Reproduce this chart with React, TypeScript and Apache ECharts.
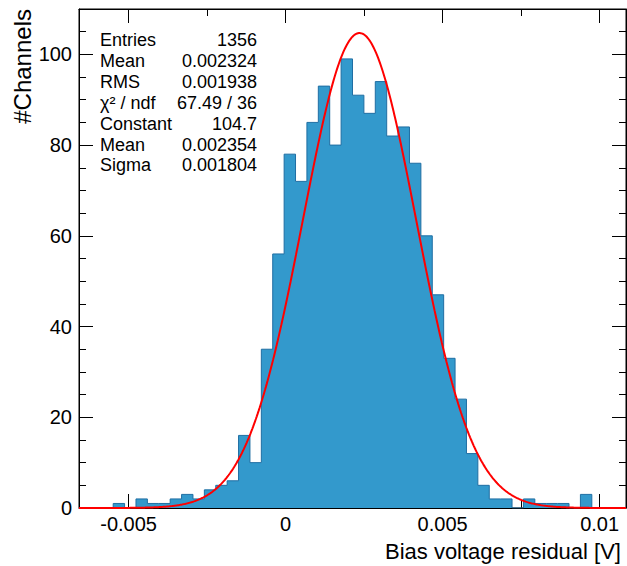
import React, { useEffect, useRef } from 'react';
import * as echarts from 'echarts';

// Histogram definition
const X_MIN = -0.00658;
const X_MAX = 0.01084;
const N_BINS = 48;
const binCounts = [
  0, 0, 0, 1, 0, 2, 1, 1, 2, 3, 2, 4, 5, 6, 16, 10,
  35, 56, 78, 72, 85, 93, 80, 99, 91, 87, 94, 82, 84, 76, 60, 47,
  33, 24, 12, 5, 2, 2, 0, 2, 1, 1, 1, 0, 3, 0, 0, 0,
];

// Gaussian fit parameters
const fitConstant = 104.7;
const fitMean = 0.002354;
const fitSigma = 0.001804;

// Stats box
const statLabels = ['Entries', 'Mean', 'RMS', 'χ² / ndf', 'Constant', 'Mean', 'Sigma'];
const statValues = ['1356', '0.002324', '0.001938', '67.49 / 36', '104.7', '0.002354', '0.001804'];

// Ticks
const xMajorTicks = [-0.005, 0, 0.005, 0.01];
const xMinorTicks = [-0.005, -0.0025, 0, 0.0025, 0.005, 0.0075, 0.01];
const Y_MIN = 0;
const Y_MAX = 110;
const Y_MAJOR = 20;
const Y_MINOR = 5;

const xTitle = 'Bias voltage residual [V]';
const yTitle = '#Channels';

const FONT = '"Liberation Sans", Arial, Helvetica, sans-serif';

export default function App() {
  const ref = useRef<HTMLDivElement>(null);

  useEffect(() => {
    if (!ref.current) return;
    const chart = echarts.init(ref.current, undefined, { renderer: 'svg' });

    const binW = (X_MAX - X_MIN) / N_BINS;
    const stepData: number[][] = binCounts.map((c, k) => [X_MIN + k * binW, c]);
    stepData.push([X_MAX, binCounts[N_BINS - 1]]);

    const fitData: number[][] = [];
    const NP = 600;
    for (let i = 0; i <= NP; i++) {
      const x = X_MIN + ((X_MAX - X_MIN) * i) / NP;
      const z = (x - fitMean) / fitSigma;
      fitData.push([x, fitConstant * Math.exp(-0.5 * z * z)]);
    }

    const fmtX = (v: number) => {
      const r = Math.round(v * 1000) / 1000;
      return r === 0 ? '0' : String(r);
    };

    const xAx = (pos: 'top' | 'bottom', ticks: number[], len: number, labels: boolean, line: boolean) => ({
      type: 'value',
      min: X_MIN,
      max: X_MAX,
      position: pos,
      axisLine: { show: line, onZero: false, lineStyle: { color: '#000', width: 1 } },
      axisTick: { show: true, inside: true, length: len, customValues: ticks, lineStyle: { color: '#000', width: 1 } },
      axisLabel: {
        show: labels,
        customValues: ticks,
        formatter: fmtX,
        color: '#000',
        fontSize: 20,
        fontFamily: FONT,
        margin: 6,
      },
      splitLine: { show: false },
    });

    const yAx = (pos: 'left' | 'right', interval: number, len: number, labels: boolean, line: boolean) => ({
      type: 'value',
      min: Y_MIN,
      max: Y_MAX,
      interval,
      position: pos,
      axisLine: { show: line, onZero: false, lineStyle: { color: '#000', width: 1 } },
      axisTick: { show: true, inside: true, length: len, lineStyle: { color: '#000', width: 1 } },
      axisLabel: {
        show: labels,
        showMaxLabel: false,
        color: '#000',
        fontSize: 20,
        fontFamily: FONT,
        margin: 7,
      },
      splitLine: { show: false },
    });

    const graphics: any[] = [];
    statLabels.forEach((t, i) => {
      const y = 40 + i * 20.9;
      graphics.push({
        type: 'text', x: 100, y,
        style: { text: t, fill: '#000', font: `18px ${FONT}`, align: 'left', verticalAlign: 'middle' },
      });
      graphics.push({
        type: 'text', x: 257, y,
        style: { text: statValues[i], fill: '#000', font: `18px ${FONT}`, align: 'right', verticalAlign: 'middle' },
      });
    });
    graphics.push({
      type: 'text', x: 621, y: 551,
      style: { text: xTitle, fill: '#000', font: `22px ${FONT}`, align: 'right', verticalAlign: 'middle' },
    });
    graphics.push({
      type: 'text', x: 22, y: 9, rotation: Math.PI / 2,
      style: { text: yTitle, fill: '#000', font: `24px ${FONT}`, align: 'right', verticalAlign: 'middle' },
    });

    chart.setOption({
      animation: false,
      backgroundColor: '#fff',
      grid: { left: 79, right: 1, top: 9, bottom: 58, show: true, borderColor: '#000', borderWidth: 1, backgroundColor: 'transparent' },
      xAxis: [
        xAx('bottom', xMajorTicks, 14, true, true),
        xAx('bottom', xMinorTicks, 7, false, false),
        xAx('top', xMajorTicks, 14, false, true),
        xAx('top', xMinorTicks, 7, false, false),
      ],
      yAxis: [
        yAx('left', Y_MAJOR, 14, true, true),
        yAx('left', Y_MINOR, 7, false, false),
        yAx('right', Y_MAJOR, 14, false, true),
        yAx('right', Y_MINOR, 7, false, false),
      ],
      series: [
        {
          type: 'line',
          xAxisIndex: 0,
          yAxisIndex: 0,
          data: stepData,
          step: 'end',
          symbol: 'none',
          lineStyle: { color: '#1f6ea3', width: 1 },
          areaStyle: { color: '#3399cc', opacity: 1, origin: 'start' },
          z: 2,
        },
        {
          type: 'line',
          xAxisIndex: 0,
          yAxisIndex: 0,
          data: fitData,
          symbol: 'none',
          smooth: false,
          clip: true,
          lineStyle: { color: '#ff0000', width: 2 },
          z: 3,
        },
      ],
      graphic: graphics,
    });

    return () => chart.dispose();
  }, []);

  return <div ref={ref} style={{ position: 'absolute', left: 0, top: 0, width: 627, height: 566 }} />;
}
